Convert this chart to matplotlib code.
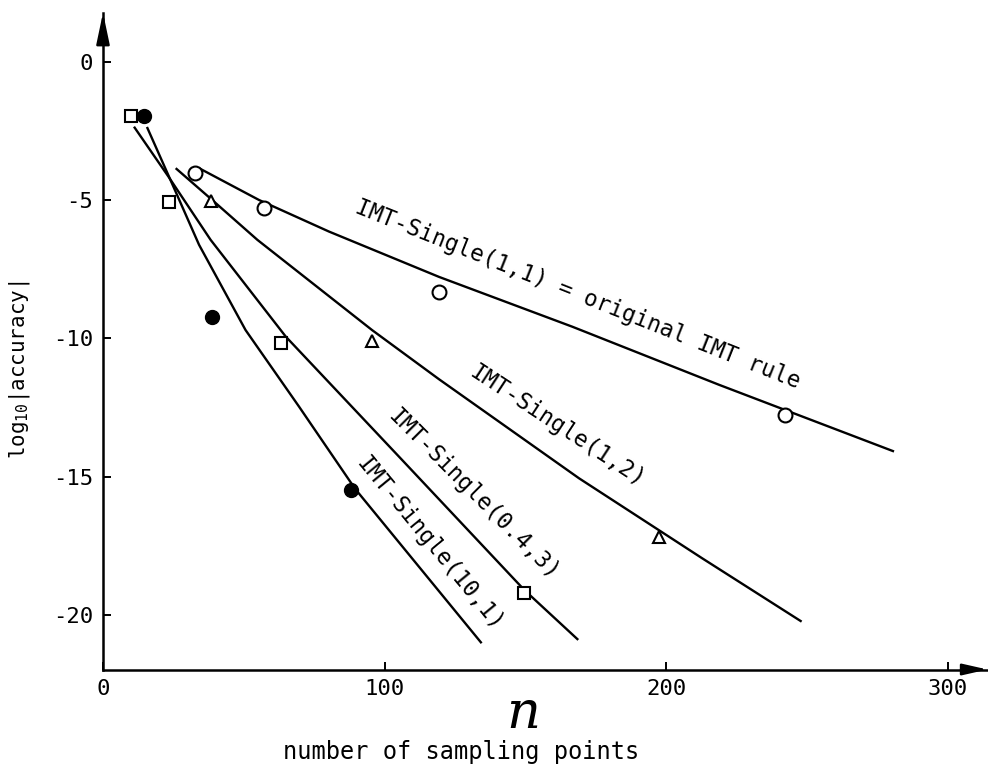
import matplotlib
matplotlib.use("Agg")
import matplotlib.pyplot as plt

# measured accuracy (log10) against number of sampling points n
n_11 = [32.7, 57.2, 119.3, 242.0]
acc_11 = [-4.03, -5.30, -8.31, -12.77]
n_12 = [38.2, 95.6, 197.5]
acc_12 = [-5.02, -10.09, -17.17]
n_043 = [9.8, 23.4, 63.1, 149.6]
acc_043 = [-1.96, -5.06, -10.16, -19.19]
n_101 = [14.6, 38.8, 87.9]
acc_101 = [-1.98, -9.22, -15.50]

# trend curves drawn through each family
curve_11_n = [34.1, 55.4, 80.2, 119.3, 166.6, 218.7, 280.8]
curve_11_acc = [-3.85, -5.00, -6.14, -7.78, -9.58, -11.68, -14.09]
curve_12_n = [25.8, 38.2, 54.8, 95.5, 119.3, 169.0, 212.7, 248.0]
curve_12_acc = [-3.85, -4.95, -6.44, -9.70, -11.48, -15.06, -17.95, -20.24]
curve_043_n = [11.0, 23.4, 38.2, 64.9, 105.1, 149.6, 168.7]
curve_043_acc = [-2.35, -4.18, -6.44, -9.94, -14.28, -19.10, -20.90]
curve_101_n = [15.6, 23.4, 34.1, 50.6, 69.6, 89.5, 134.4]
curve_101_acc = [-2.36, -4.15, -6.62, -9.70, -12.47, -15.44, -21.02]

x_ticks = [0, 100, 200, 300]
y_ticks = [0, -5, -10, -15, -20]

MONO = "DejaVu Sans Mono"


def setup_axes(fig):
    ax = fig.add_axes([0.10425, 0.13277, 0.8953, 0.85078])
    ax.set_xlim(0, 314)
    ax.set_ylim(-21.97, 1.77)
    for side in ("top", "right"):
        ax.spines[side].set_visible(False)
    for side in ("left", "bottom"):
        ax.spines[side].set_linewidth(1.8)
    ax.set_xticks(x_ticks)
    ax.set_yticks(y_ticks)
    ax.tick_params(direction="in", length=6, width=1.4, labelsize=16, pad=7)
    for lab in ax.get_xticklabels() + ax.get_yticklabels():
        lab.set_family(MONO)

    # arrow heads at the ends of both axes
    ax.annotate("", xy=(1, 0), xytext=(0.97, 0), xycoords="axes fraction",
                arrowprops=dict(arrowstyle="-|>,head_length=0.75,head_width=0.17",
                                mutation_scale=20, color="k", lw=1.8,
                                shrinkA=0, shrinkB=0), annotation_clip=False)
    ax.annotate("", xy=(0, 1), xytext=(0, 0.96), xycoords="axes fraction",
                arrowprops=dict(arrowstyle="-|>,head_length=0.95,head_width=0.2",
                                mutation_scale=20, color="k", lw=1.8,
                                shrinkA=0, shrinkB=0), annotation_clip=False)
    return ax


def plot_curves(ax):
    line_kw = dict(color="k", lw=1.7, solid_capstyle="butt",
                   solid_joinstyle="round", zorder=2)
    ax.plot(curve_11_n, curve_11_acc, **line_kw)
    ax.plot(curve_12_n, curve_12_acc, **line_kw)
    ax.plot(curve_043_n, curve_043_acc, **line_kw)
    ax.plot(curve_101_n, curve_101_acc, **line_kw)

    ax.plot(n_11, acc_11, "o", ms=10, mfc="white", mec="k", mew=1.5, zorder=3)
    ax.plot(n_12, acc_12, "^", ms=9, mfc="white", mec="k", mew=1.5, zorder=3)
    ax.plot(n_043, acc_043, "s", ms=8.5, mfc="white", mec="k", mew=1.5, zorder=3)
    ax.plot(n_101, acc_101, "o", ms=10, mfc="k", mec="k", zorder=3)


def label_curves(ax):
    kw = dict(family=MONO, fontsize=16.3, ha="center", va="center",
              rotation_mode="anchor")
    ax.text(168.6, -8.43, "IMT-Single(1,1) = original IMT rule", rotation=-21.7, **kw)
    ax.text(161.3, -13.19, "IMT-Single(1,2)", rotation=-33.2, **kw)
    ax.text(131.5, -15.65, "IMT-Single(0.4,3)", rotation=-45, **kw)
    ax.text(116.0, -17.43, "IMT-Single(10,1)", rotation=-50.6, **kw)


def main():
    plt.rcParams["axes.unicode_minus"] = False
    plt.rcParams["mathtext.fontset"] = "custom"
    plt.rcParams["mathtext.rm"] = MONO
    plt.rcParams["mathtext.it"] = MONO

    fig = plt.figure(figsize=(9.88, 7.72), dpi=100)
    ax = setup_axes(fig)
    plot_curves(ax)
    label_curves(ax)

    fig.text(20 / 988, 1 - 370 / 772, r"log$_{\rm 10}$|accuracy|", family=MONO,
             fontsize=15, rotation=90, ha="center", va="center")
    fig.text(523 / 988, 1 - 713 / 772, "n", family="DejaVu Serif", style="italic",
             fontsize=38, ha="center", va="center")
    fig.text(461.5 / 988, 1 - 752 / 772, "number of sampling points", family=MONO,
             fontsize=17, ha="center", va="center")

    fig.savefig("out.png", dpi=100)


if __name__ == "__main__":
    main()
